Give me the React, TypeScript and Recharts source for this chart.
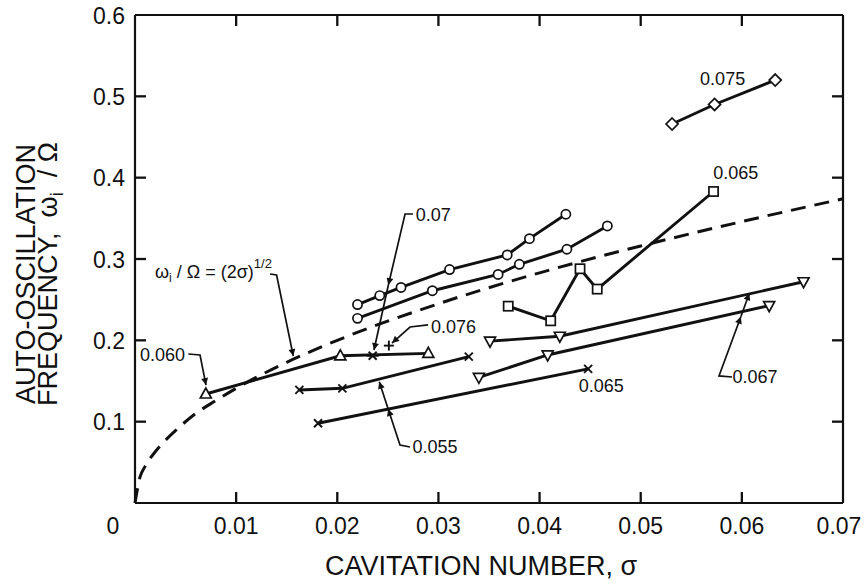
import React from 'react';
import { ComposedChart, Line, XAxis, YAxis, ReferenceDot } from 'recharts';

// ---- axis ticks ----
const X_TICKS = [0, 0.01, 0.02, 0.03, 0.04, 0.05, 0.06, 0.07];
const Y_TICKS = [0, 0.1, 0.2, 0.3, 0.4, 0.5, 0.6];
const X_DOMAIN: [number, number] = [0, 0.07];
const Y_DOMAIN: [number, number] = [0, 0.6];

// ---- data: [cavitation number sigma, omega_i / Omega] ----
const theoryCurve: [number, number][] = [
  [0, 0], [0.0005, 0.032], [0.001, 0.045], [0.002, 0.063], [0.003, 0.077], [0.004, 0.089],
  [0.006, 0.11], [0.008, 0.126], [0.01, 0.141], [0.015, 0.173], [0.02, 0.2], [0.03, 0.245],
  [0.04, 0.283], [0.05, 0.316], [0.06, 0.346], [0.07, 0.374],
];
const circlesUpper: [number, number][] = [
  [0.022, 0.244], [0.0242, 0.255], [0.0263, 0.265], [0.0311, 0.287], [0.0368, 0.305], [0.039, 0.325], [0.0426, 0.355],
];
const circlesLower: [number, number][] = [
  [0.022, 0.227], [0.0294, 0.261], [0.0359, 0.281], [0.038, 0.2935], [0.0427, 0.312], [0.0467, 0.3406],
];
const squares065: [number, number][] = [
  [0.0369, 0.242], [0.0411, 0.224], [0.044, 0.288], [0.0457, 0.263], [0.0572, 0.383],
];
const diamonds075: [number, number][] = [[0.0531, 0.466], [0.0573, 0.49], [0.0633, 0.52]];
const triDownUpper: [number, number][] = [[0.0351, 0.199], [0.042, 0.205], [0.0661, 0.272]];
const triDownLower: [number, number][] = [[0.034, 0.1545], [0.0408, 0.182], [0.0627, 0.2426]];
const triUp060: [number, number][] = [[0.007, 0.134], [0.0203, 0.181], [0.029, 0.184]];
const asterisk07: [number, number][] = [[0.0235, 0.181]];
const plus076: [number, number][] = [[0.0251, 0.1935]];
const cross055: [number, number][] = [[0.01625, 0.139], [0.0205, 0.141], [0.033, 0.18]];
const cross065: [number, number][] = [[0.0181, 0.098], [0.0448, 0.165]];

// ---- annotations (data coordinates) ----
const leaderFormula: [number, number][] = [[0.01335, 0.2816], [0.014, 0.2803], [0.01565, 0.1807]];
const leader060: [number, number][] = [[0.00527, 0.1832], [0.00643, 0.182], [0.00702, 0.145]];
const leader07a: [number, number][] = [[0.02749, 0.3553], [0.0267, 0.3553], [0.02505, 0.268]];
const leader07b: [number, number][] = [[0.02505, 0.268], [0.02363, 0.1881]];
const leader076: [number, number][] = [[0.02897, 0.2189], [0.02719, 0.2164], [0.02541, 0.1967]];
const leader055a: [number, number][] = [[0.02719, 0.0689], [0.0262, 0.0713], [0.02503, 0.1155]];
const leader055b: [number, number][] = [[0.02503, 0.1155], [0.02415, 0.1491]];
const leader067a: [number, number][] = [[0.05903, 0.1549], [0.05774, 0.1562], [0.0599, 0.229]];
const leader067b: [number, number][] = [[0.0599, 0.229], [0.06074, 0.2578]];

const annotationTexts = ['0.060', '0.07', '0.076', '0.055', '0.065', '0.067', '0.065', '0.075'];
const annotationSigma = [0.00272, 0.0295, 0.0315, 0.02966, 0.0461, 0.0613, 0.0594, 0.0581];
const annotationOmega = [0.182, 0.3541, 0.2168, 0.0689, 0.1439, 0.1553, 0.4061, 0.5222];
const formulaAnchor: [number, number] = [0.00198, 0.2767];

const FONT = '"Liberation Sans", Arial, Helvetica, sans-serif';
const INK = '#111';

// layout
const CHART_W = 867;
const CHART_H = 584;
const MARGIN = { top: 15, right: 24, bottom: 0, left: 0 };
const Y_AXIS_W = 135;
const X_AXIS_H = 81;
const PLOT_W = CHART_W - MARGIN.left - MARGIN.right - Y_AXIS_W;
const PLOT_H = CHART_H - MARGIN.top - MARGIN.bottom - X_AXIS_H;
const TICK_PX = 11;
// inward tick length expressed in data units
const TICK_DX = (TICK_PX / PLOT_W) * (X_DOMAIN[1] - X_DOMAIN[0]);
const TICK_DY = (TICK_PX / PLOT_H) * (Y_DOMAIN[1] - Y_DOMAIN[0]);

const toRows = (pts: [number, number][]) => pts.map(([s, w]) => ({ s, w }));

type Shape = 'circle' | 'square' | 'diamond' | 'triUp' | 'triDown' | 'cross' | 'asterisk' | 'plus';

function Marker({ shape, cx, cy }: { shape: Shape; cx: number; cy: number }) {
  const st = { stroke: INK, strokeWidth: 1.7, fill: '#fff' };
  switch (shape) {
    case 'circle':
      return <circle cx={cx} cy={cy} r={4.6} {...st} />;
    case 'square':
      return <rect x={cx - 4.6} y={cy - 4.6} width={9.2} height={9.2} {...st} />;
    case 'diamond':
      return <polygon points={`${cx},${cy - 6} ${cx + 6},${cy} ${cx},${cy + 6} ${cx - 6},${cy}`} {...st} />;
    case 'triUp':
      return <polygon points={`${cx},${cy - 6} ${cx + 5.5},${cy + 4} ${cx - 5.5},${cy + 4}`} {...st} />;
    case 'triDown':
      return <polygon points={`${cx - 5.5},${cy - 4} ${cx + 5.5},${cy - 4} ${cx},${cy + 6}`} {...st} />;
    case 'cross':
      return (
        <g stroke={INK} strokeWidth={1.9}>
          <line x1={cx - 4} y1={cy - 4} x2={cx + 4} y2={cy + 4} />
          <line x1={cx - 4} y1={cy + 4} x2={cx + 4} y2={cy - 4} />
        </g>
      );
    case 'asterisk':
      return (
        <g stroke={INK} strokeWidth={1.9}>
          <line x1={cx - 4} y1={cy - 4} x2={cx + 4} y2={cy + 4} />
          <line x1={cx - 4} y1={cy + 4} x2={cx + 4} y2={cy - 4} />
          <line x1={cx - 6} y1={cy} x2={cx + 6} y2={cy} />
        </g>
      );
    case 'plus':
      return (
        <g stroke={INK} strokeWidth={1.9}>
          <line x1={cx - 5} y1={cy} x2={cx + 5} y2={cy} />
          <line x1={cx} y1={cy - 5} x2={cx} y2={cy + 5} />
        </g>
      );
  }
  return null;
}

const dotOf = (shape: Shape) => (p: any) => {
  if (p.cx == null || p.cy == null) return <g key={`d-${p.index}`} />;
  return (
    <g key={`d-${shape}-${p.index}`}>
      <Marker shape={shape} cx={p.cx} cy={p.cy} />
    </g>
  );
};

const XTick = (p: any) => {
  const v = p.payload.value as number;
  const label = v === 0 ? '0' : v.toFixed(2);
  const dx = v === 0 ? -22 : v === 0.07 ? -4 : 0;
  return (
    <text x={p.x + dx} y={p.y} dy="0.71em" textAnchor="middle" fontSize={23} fontFamily={FONT} fill={INK}>
      {label}
    </text>
  );
};

const YTick = (p: any) => {
  const v = p.payload.value as number;
  if (v === 0) return <g />;
  return (
    <text x={p.x} y={p.y} dy="0.38em" textAnchor="end" fontSize={23} fontFamily={FONT} fill={INK}>
      {v.toFixed(1)}
    </text>
  );
};

const NoLabel = () => <g />;

const XTitle = (props: any) => {
  const vb = props.viewBox;
  return (
    <text x={vb.x + vb.width / 2 - 8} y={vb.y + vb.height - 9} textAnchor="middle" fontSize={27} fontFamily={FONT} fill={INK}>
      CAVITATION NUMBER, σ
    </text>
  );
};

const YTitle = (props: any) => {
  const vb = props.viewBox;
  const cy = vb.y + vb.height / 2 + 15;
  return (
    <g>
      <text transform={`translate(35, ${cy}) rotate(-90)`} textAnchor="middle" fontSize={27} fontFamily={FONT} fill={INK}>
        AUTO-OSCILLATION
      </text>
      <text transform={`translate(57, ${cy}) rotate(-90)`} textAnchor="middle" fontSize={27} fontFamily={FONT} fill={INK}>
        FREQUENCY,{'\u00A0\u00A0'}ω
        <tspan fontSize={18} dy={6}>i</tspan>
        <tspan dy={-6}>{'\u00A0\u00A0'}/ Ω</tspan>
      </text>
    </g>
  );
};

const FormulaLabel = (props: any) => {
  const vb = props.viewBox;
  const x = vb.x + vb.width / 2;
  const y = vb.y + vb.height / 2;
  return (
    <text x={x} y={y} fontSize={18} fontFamily={FONT} fill={INK}>
      ω
      <tspan fontSize={12} dy={4}>i</tspan>
      <tspan dy={-4}> / Ω = (2σ)</tspan>
      <tspan fontSize={13} dy={-10}>1/2</tspan>
    </text>
  );
};

const seriesLine = (key: string, pts: [number, number][], shape: Shape) => (
  <Line
    key={key}
    data={toRows(pts)}
    dataKey="w"
    type="linear"
    stroke={INK}
    strokeWidth={2.9}
    dot={dotOf(shape)}
    activeDot={false}
    isAnimationActive={false}
  />
);

const leaderLine = (key: string, pts: [number, number][]) => (
  <Line
    key={key}
    data={toRows(pts)}
    dataKey="w"
    type="linear"
    stroke={INK}
    strokeWidth={1.7}
    dot={false}
    activeDot={false}
    markerEnd="url(#arrowHead)"
    isAnimationActive={false}
  />
);

// tick marks drawn as tiny two-point line series
const tickMark = (key: string, pts: [number, number][]) => (
  <Line
    key={key}
    data={toRows(pts)}
    dataKey="w"
    type="linear"
    stroke={INK}
    strokeWidth={2.3}
    dot={false}
    activeDot={false}
    isAnimationActive={false}
  />
);

const AXIS_LINE = { stroke: INK, strokeWidth: 2.2 };

const innerX = X_TICKS.filter((t) => t > X_DOMAIN[0] && t < X_DOMAIN[1]);
const innerY = Y_TICKS.filter((t) => t > Y_DOMAIN[0] && t < Y_DOMAIN[1]);

export default function App() {
  return (
    <div style={{ position: 'absolute', left: 0, top: 0, width: CHART_W, height: CHART_H, background: '#fff' }}>
      <svg width={0} height={0} style={{ position: 'absolute' }}>
        <defs>
          <marker id="arrowHead" viewBox="0 0 10 10" refX="10" refY="5" markerWidth="11" markerHeight="7" markerUnits="userSpaceOnUse" orient="auto">
            <path d="M0,0 L10,5 L0,10 z" fill={INK} />
          </marker>
        </defs>
      </svg>
      <ComposedChart width={CHART_W} height={CHART_H} margin={MARGIN}>
        <XAxis
          type="number"
          dataKey="s"
          domain={X_DOMAIN}
          ticks={X_TICKS}
          interval={0}
          height={X_AXIS_H}
          axisLine={AXIS_LINE}
          tickLine={false}
          tickSize={0}
          tickMargin={15}
          tick={XTick}
          label={XTitle}
        />
        <YAxis
          type="number"
          domain={Y_DOMAIN}
          ticks={Y_TICKS}
          interval={0}
          width={Y_AXIS_W}
          axisLine={AXIS_LINE}
          tickLine={false}
          tickSize={0}
          tickMargin={10}
          tick={YTick}
          label={YTitle}
        />
        {/* frame: top and right axis lines */}
        <XAxis
          xAxisId="top"
          orientation="top"
          mirror
          type="number"
          dataKey="s"
          domain={X_DOMAIN}
          ticks={X_TICKS}
          axisLine={AXIS_LINE}
          tickLine={false}
          tick={NoLabel}
        />
        <YAxis
          yAxisId="right"
          orientation="right"
          mirror
          type="number"
          domain={Y_DOMAIN}
          ticks={Y_TICKS}
          axisLine={AXIS_LINE}
          tickLine={false}
          tick={NoLabel}
        />

        {/* inward tick marks on all four sides */}
        {innerX.map((t) => tickMark(`tb-${t}`, [[t, Y_DOMAIN[0]], [t, Y_DOMAIN[0] + TICK_DY]]))}
        {innerX.map((t) => tickMark(`tt-${t}`, [[t, Y_DOMAIN[1]], [t, Y_DOMAIN[1] - TICK_DY]]))}
        {innerY.map((t) => tickMark(`tl-${t}`, [[X_DOMAIN[0], t], [X_DOMAIN[0] + TICK_DX, t]]))}
        {innerY.map((t) => tickMark(`tr-${t}`, [[X_DOMAIN[1] - TICK_DX, t], [X_DOMAIN[1], t]]))}

        <Line
          data={toRows(theoryCurve)}
          dataKey="w"
          type="monotone"
          stroke={INK}
          strokeWidth={3}
          strokeDasharray="15 9"
          dot={false}
          activeDot={false}
          isAnimationActive={false}
        />

        {seriesLine('circU', circlesUpper, 'circle')}
        {seriesLine('circL', circlesLower, 'circle')}
        {seriesLine('sq', squares065, 'square')}
        {seriesLine('dia', diamonds075, 'diamond')}
        {seriesLine('tdU', triDownUpper, 'triDown')}
        {seriesLine('tdL', triDownLower, 'triDown')}
        {seriesLine('tu', triUp060, 'triUp')}
        {seriesLine('xU', cross055, 'cross')}
        {seriesLine('xL', cross065, 'cross')}
        {seriesLine('ast', asterisk07, 'asterisk')}
        {seriesLine('plus', plus076, 'plus')}

        {leaderLine('lf', leaderFormula)}
        {leaderLine('l060', leader060)}
        {leaderLine('l07a', leader07a)}
        {leaderLine('l07b', leader07b)}
        {leaderLine('l076', leader076)}
        {leaderLine('l055a', leader055a)}
        {leaderLine('l055b', leader055b)}
        {leaderLine('l067a', leader067a)}
        {leaderLine('l067b', leader067b)}

        {annotationTexts.map((t, i) => (
          <ReferenceDot
            key={`ann-${i}`}
            x={annotationSigma[i]}
            y={annotationOmega[i]}
            r={1}
            fill="none"
            stroke="none"
            label={{ value: t, position: 'center', fontSize: 18, fontFamily: FONT, fill: INK }}
          />
        ))}
        <ReferenceDot x={formulaAnchor[0]} y={formulaAnchor[1]} r={1} fill="none" stroke="none" label={FormulaLabel} />
      </ComposedChart>
    </div>
  );
}
